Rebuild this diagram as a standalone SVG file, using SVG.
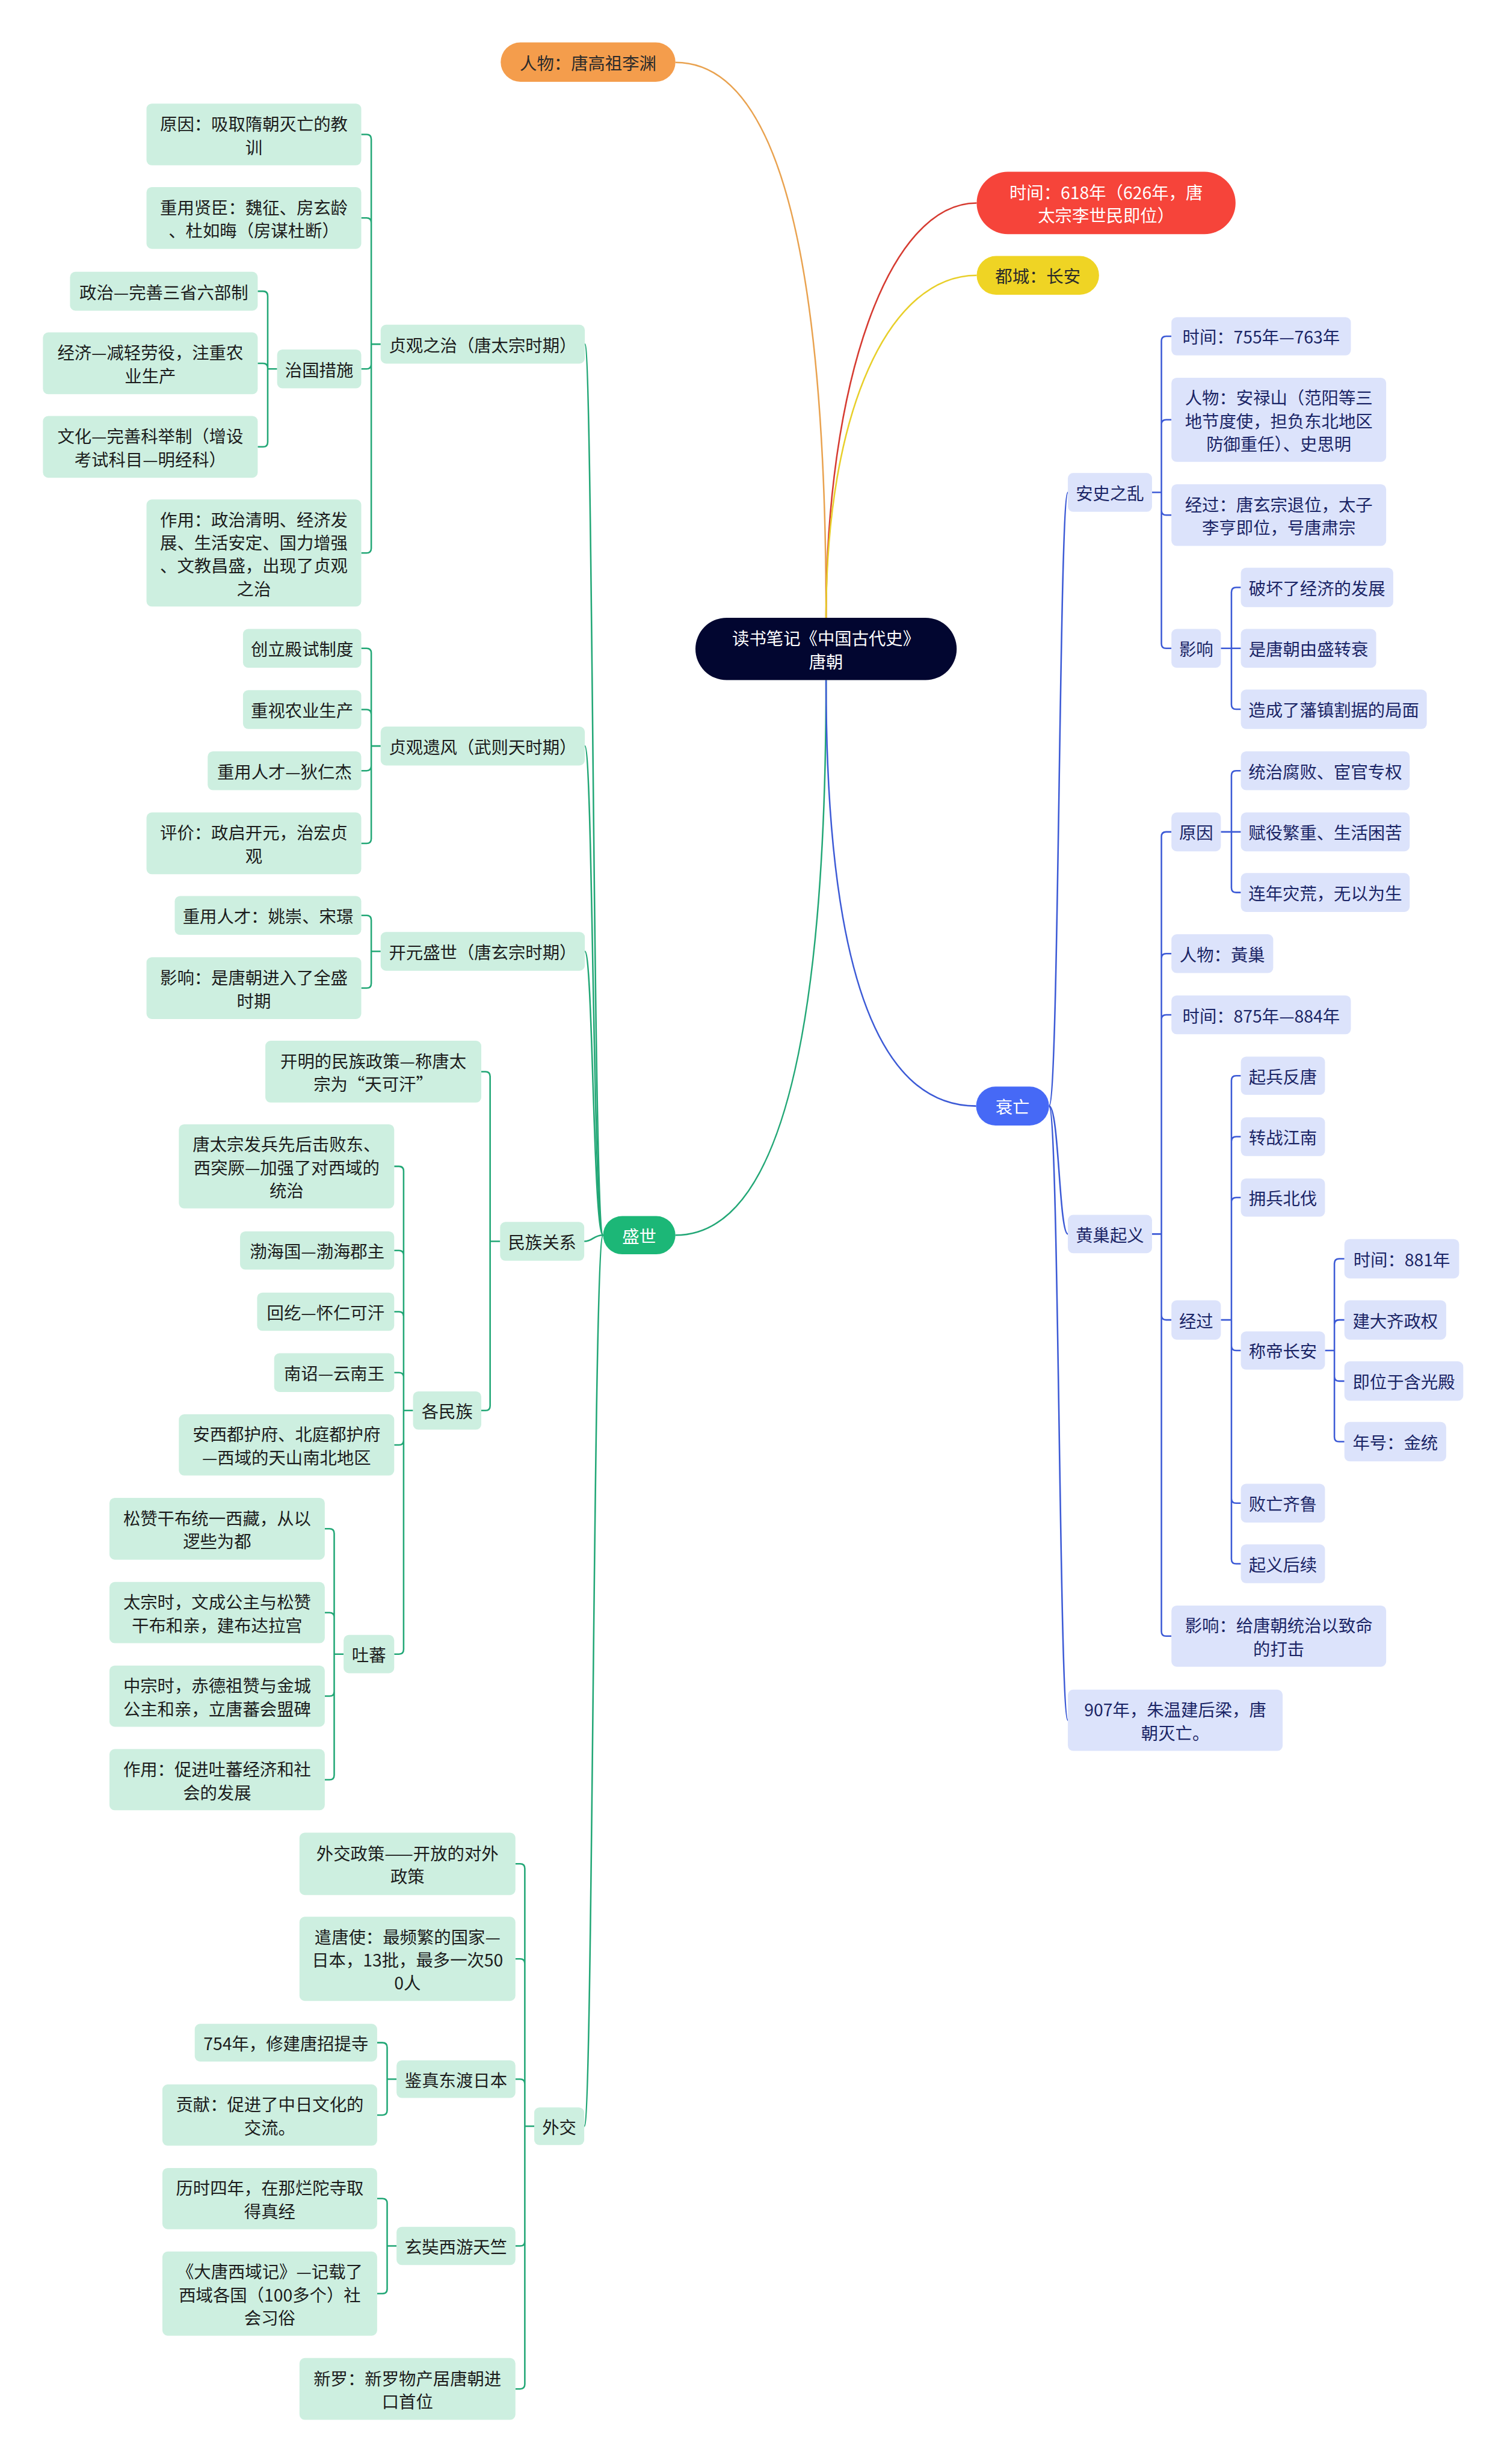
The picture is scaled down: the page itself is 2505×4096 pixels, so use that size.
<svg xmlns="http://www.w3.org/2000/svg" width="2505" height="4096" viewBox="0 0 2505 4096">
<style>
text{font-family:"Noto Sans CJK SC","Noto Sans",sans-serif;font-size:29px;text-anchor:middle;dominant-baseline:central}
.g rect{fill:#CDEFE0}
.g text{fill:#1c1c1c}
.b rect{fill:#DCE3FB}
.b text{fill:#1b2566}
.cg{fill:none;stroke:#22A776;stroke-width:2.6}
.cb{fill:none;stroke:#3C5AD6;stroke-width:2.6}
.w{fill:#fff}
</style>
<rect width="2505" height="4096" fill="#fff"/>
<g transform="scale(0.978)">
<g id="connectors">
<path d="M1404,1050Q1404,106 1148,106" fill="none" stroke="#E9A24F" stroke-width="2.6"/>
<path d="M1404,1050C1404,650 1510,345 1660,345" fill="none" stroke="#D63B31" stroke-width="2.6"/>
<path d="M1404,1050C1404,700 1510,468 1660,468" fill="none" stroke="#E8CF2A" stroke-width="2.6"/>
<path class="cg" d="M1404,1156Q1404,2099.5 1148,2099.5"/>
<path class="cb" d="M1404,1156Q1404,1880 1659,1880"/>
<path class="cg" d="M1025,2099.5C1008,2099.5 1008,585 994,585"/>
<path class="cg" d="M1025,2099.5C1008,2099.5 1008,1268 994,1268"/>
<path class="cg" d="M1025,2099.5C1008,2099.5 1008,1617 994,1617"/>
<path class="cg" d="M1025,2099.5C1008,2099.5 1008,2110 993,2110"/>
<path class="cg" d="M1025,2099.5C1008,2099.5 1008,3614 993,3614"/>
<path class="cb" d="M1783,1880C1800,1880 1800,837 1815,837"/>
<path class="cb" d="M1783,1880C1800,1880 1800,2097.5 1815,2097.5"/>
<path class="cb" d="M1783,1880C1800,1880 1800,2924 1815,2924"/>
<path class="cg" d="M614,228.5H623Q631,228.5 631,236.5V585M614,370.5H623Q631,370.5 631,378.5V585M614,627H623Q631,627 631,619V585M614,940H623Q631,940 631,932V585M631,585H647"/>
<path class="cg" d="M438,495H447Q455,495 455,503V627M438,617.5H447Q455,617.5 455,625.5V627M438,759.5H447Q455,759.5 455,751.5V627M455,627H471"/>
<path class="cg" d="M614,1102H623Q631,1102 631,1110V1268M614,1206H623Q631,1206 631,1214V1268M614,1310H623Q631,1310 631,1302V1268M614,1433.5H623Q631,1433.5 631,1425.5V1268M631,1268H647"/>
<path class="cg" d="M614,1556H623Q631,1556 631,1564V1617M614,1679.5H623Q631,1679.5 631,1671.5V1617M631,1617H647"/>
<path class="cg" d="M818,1821.5H825Q833,1821.5 833,1829.5V2110M818,2397.5H825Q833,2397.5 833,2389.5V2110M833,2110H850"/>
<path class="cg" d="M670,1982.5H678Q686,1982.5 686,1990.5V2397.5M670,2125.5H678Q686,2125.5 686,2133.5V2397.5M670,2229.5H678Q686,2229.5 686,2237.5V2397.5M670,2333H678Q686,2333 686,2341V2397.5M670,2456H678Q686,2456 686,2448V2397.5M670,2811.5H678Q686,2811.5 686,2803.5V2397.5M686,2397.5H702"/>
<path class="cg" d="M552,2598.5H560Q568,2598.5 568,2606.5V2811.5M552,2741H560Q568,2741 568,2749V2811.5M552,2883H560Q568,2883 568,2875V2811.5M552,3025H560Q568,3025 568,3017V2811.5M568,2811.5H584"/>
<path class="cg" d="M876,3168H884Q892,3168 892,3176V3614M876,3329.5H884Q892,3329.5 892,3337.5V3614M876,3534H884Q892,3534 892,3542V3614M876,3817.5H884Q892,3817.5 892,3809.5V3614M876,4060.5H884Q892,4060.5 892,4052.5V3614M892,3614H908"/>
<path class="cg" d="M641,3472H650Q658,3472 658,3480V3534M641,3595H650Q658,3595 658,3587V3534M658,3534H674"/>
<path class="cg" d="M641,3737H650Q658,3737 658,3745V3817.5M641,3898.5H650Q658,3898.5 658,3890.5V3817.5M658,3817.5H674"/>
<path class="cb" d="M1991,571.5H1982Q1974,571.5 1974,579.5V837M1991,713.5H1982Q1974,713.5 1974,721.5V837M1991,875.5H1982Q1974,875.5 1974,867.5V837M1991,1102H1982Q1974,1102 1974,1094V837M1958,837H1974"/>
<path class="cb" d="M2109,998.5H2101Q2093,998.5 2093,1006.5V1102M2109,1102H2093M2109,1205.5H2101Q2093,1205.5 2093,1197.5V1102M2075,1102H2093"/>
<path class="cb" d="M1991,1414H1982Q1974,1414 1974,1422V2097.5M1991,1621H1982Q1974,1621 1974,1629V2097.5M1991,1725H1982Q1974,1725 1974,1733V2097.5M1991,2243.5H1982Q1974,2243.5 1974,2235.5V2097.5M1991,2781H1982Q1974,2781 1974,2773V2097.5M1958,2097.5H1974"/>
<path class="cb" d="M2109,1310H2101Q2093,1310 2093,1318V1414M2109,1414H2093M2109,1517H2101Q2093,1517 2093,1509V1414M2075,1414H2093"/>
<path class="cb" d="M2109,1828.5H2101Q2093,1828.5 2093,1836.5V2243.5M2109,1932H2101Q2093,1932 2093,1940V2243.5M2109,2035.5H2101Q2093,2035.5 2093,2043.5V2243.5M2109,2295.5H2101Q2093,2295.5 2093,2287.5V2243.5M2109,2555H2101Q2093,2555 2093,2547V2243.5M2109,2658H2101Q2093,2658 2093,2650V2243.5M2075,2243.5H2093"/>
<path class="cb" d="M2285,2139.5H2276Q2268,2139.5 2268,2147.5V2295.5M2285,2243.5H2276Q2268,2243.5 2268,2251.5V2295.5M2285,2347.5H2276Q2268,2347.5 2268,2339.5V2295.5M2285,2450.5H2276Q2268,2450.5 2268,2442.5V2295.5M2252,2295.5H2268"/>
</g>

<g id="root"><rect x="1182" y="1050" width="444" height="106" rx="53" fill="#020630"/><text class="w" x="1404" y="1083.5">读书笔记《中国古代史》<tspan x="1404" dy="39">唐朝</tspan></text></g>
<g id="n-renwu"><rect x="851" y="72" width="297" height="67" rx="33.5" fill="#F49D4C"/><text x="999.5" y="105.5" fill="#2b2b2b">人物：唐高祖李渊</text></g>
<g id="n-time618"><rect x="1660" y="292" width="440" height="106" rx="53" fill="#F6443A"/><text class="w" x="1880" y="325.5">时间：618年（626年，唐<tspan x="1880" dy="39">太宗李世民即位）</tspan></text></g>
<g id="n-ducheng"><rect x="1660" y="435" width="208" height="66" rx="33" fill="#EFD424"/><text x="1764" y="468" fill="#2b2b2b">都城：长安</text></g>
<g id="n-shengshi"><rect x="1025" y="2067" width="123" height="65" rx="32.5" fill="#1CB777"/><text class="w" x="1086.5" y="2099.5">盛世</text></g>
<g id="n-shuaiwang"><rect x="1659" y="1847" width="124" height="66" rx="33" fill="#4669F6"/><text class="w" x="1721" y="1880">衰亡</text></g>

<g class="g">
<g id="n-zhenguan"><rect x="647" y="552" width="347" height="66" rx="9"/><text x="820.5" y="585">贞观之治（唐太宗时期）</text></g>
<g id="n-yuanyin1"><rect x="249" y="176" width="365" height="105" rx="9"/><text x="431.5" y="209">原因：吸取隋朝灭亡的教<tspan x="431.5" dy="39">训</tspan></text></g>
<g id="n-xianchen"><rect x="249" y="318" width="365" height="105" rx="9"/><text x="431.5" y="351">重用贤臣：魏征、房玄龄<tspan x="431.5" dy="39">、杜如晦（房谋杜断）</tspan></text></g>
<g id="n-zhiguo"><rect x="471" y="594" width="143" height="66" rx="9"/><text x="542.5" y="627">治国措施</text></g>
<g id="n-zhengzhi"><rect x="119" y="462" width="319" height="66" rx="9"/><text x="278.5" y="495">政治—完善三省六部制</text></g>
<g id="n-jingji"><rect x="73" y="565" width="365" height="105" rx="9"/><text x="255.5" y="598">经济—减轻劳役，注重农<tspan x="255.5" dy="39">业生产</tspan></text></g>
<g id="n-wenhua"><rect x="73" y="707" width="365" height="105" rx="9"/><text x="255.5" y="740">文化—完善科举制（增设<tspan x="255.5" dy="39">考试科目—明经科）</tspan></text></g>
<g id="n-zuoyong1"><rect x="249" y="849" width="365" height="182" rx="9"/><text x="431.5" y="881.5">作用：政治清明、经济发<tspan x="431.5" dy="39">展、生活安定、国力增强</tspan><tspan x="431.5" dy="39">、文教昌盛，出现了贞观</tspan><tspan x="431.5" dy="39">之治</tspan></text></g>
<g id="n-yifeng"><rect x="647" y="1235" width="347" height="66" rx="9"/><text x="820.5" y="1268">贞观遗风（武则天时期）</text></g>
<g id="n-dianshi"><rect x="413" y="1069" width="201" height="66" rx="9"/><text x="513.5" y="1102">创立殿试制度</text></g>
<g id="n-nongye"><rect x="413" y="1173" width="201" height="66" rx="9"/><text x="513.5" y="1206">重视农业生产</text></g>
<g id="n-direnjie"><rect x="353" y="1277" width="261" height="66" rx="9"/><text x="483.5" y="1310">重用人才—狄仁杰</text></g>
<g id="n-pingjia"><rect x="249" y="1381" width="365" height="105" rx="9"/><text x="431.5" y="1414">评价：政启开元，治宏贞<tspan x="431.5" dy="39">观</tspan></text></g>
<g id="n-kaiyuan"><rect x="647" y="1584" width="347" height="66" rx="9"/><text x="820.5" y="1617">开元盛世（唐玄宗时期）</text></g>
<g id="n-yaochong"><rect x="297" y="1523" width="317" height="66" rx="9"/><text x="455.5" y="1556">重用人才：姚崇、宋璟</text></g>
<g id="n-quansheng"><rect x="249" y="1627" width="365" height="105" rx="9"/><text x="431.5" y="1660">影响：是唐朝进入了全盛<tspan x="431.5" dy="39">时期</tspan></text></g>
<g id="n-minzu"><rect x="850" y="2077" width="143" height="66" rx="9"/><text x="921.5" y="2110">民族关系</text></g>
<g id="n-kaiming"><rect x="451" y="1769" width="367" height="105" rx="9"/><text x="634.5" y="1802">开明的民族政策—称唐太<tspan x="634.5" dy="39">宗为“天可汗”</tspan></text></g>
<g id="n-geminzu"><rect x="702" y="2365" width="116" height="65" rx="9"/><text x="760" y="2397.5">各民族</text></g>
<g id="n-tujue"><rect x="304" y="1911" width="366" height="143" rx="9"/><text x="487" y="1943.5">唐太宗发兵先后击败东、<tspan x="487" dy="39">西突厥—加强了对西域的</tspan><tspan x="487" dy="39">统治</tspan></text></g>
<g id="n-bohai"><rect x="408" y="2093" width="262" height="65" rx="9"/><text x="539" y="2125.5">渤海国—渤海郡主</text></g>
<g id="n-huihe"><rect x="437" y="2197" width="233" height="65" rx="9"/><text x="553.5" y="2229.5">回纥—怀仁可汗</text></g>
<g id="n-nanzhao"><rect x="466" y="2300" width="204" height="66" rx="9"/><text x="568" y="2333">南诏—云南王</text></g>
<g id="n-anxi"><rect x="304" y="2404" width="366" height="104" rx="9"/><text x="487" y="2436.5">安西都护府、北庭都护府<tspan x="487" dy="39">—西域的天山南北地区</tspan></text></g>
<g id="n-tubo"><rect x="584" y="2779" width="86" height="65" rx="9"/><text x="627" y="2811.5">吐蕃</text></g>
<g id="n-songzan"><rect x="186" y="2546" width="366" height="105" rx="9"/><text x="369" y="2579">松赞干布统一西藏，从以<tspan x="369" dy="39">逻些为都</tspan></text></g>
<g id="n-wencheng"><rect x="186" y="2689" width="366" height="104" rx="9"/><text x="369" y="2721.5">太宗时，文成公主与松赞<tspan x="369" dy="39">干布和亲，建布达拉宫</tspan></text></g>
<g id="n-jincheng"><rect x="186" y="2831" width="366" height="104" rx="9"/><text x="369" y="2863.5">中宗时，赤德祖赞与金城<tspan x="369" dy="39">公主和亲，立唐蕃会盟碑</tspan></text></g>
<g id="n-zuoyong2"><rect x="186" y="2973" width="366" height="104" rx="9"/><text x="369" y="3005.5">作用：促进吐蕃经济和社<tspan x="369" dy="39">会的发展</tspan></text></g>
<g id="n-waijiao"><rect x="908" y="3582" width="85" height="64" rx="9"/><text x="950.5" y="3614">外交</text></g>
<g id="n-zhengce"><rect x="509" y="3115" width="367" height="106" rx="9"/><text x="692.5" y="3148.5">外交政策——开放的对外<tspan x="692.5" dy="39">政策</tspan></text></g>
<g id="n-qiantang"><rect x="509" y="3258" width="367" height="143" rx="9"/><text x="692.5" y="3290.5">遣唐使：最频繁的国家—<tspan x="692.5" dy="39">日本，13批，最多一次50</tspan><tspan x="692.5" dy="39">0人</tspan></text></g>
<g id="n-jianzhen"><rect x="674" y="3502" width="202" height="64" rx="9"/><text x="775" y="3534">鉴真东渡日本</text></g>
<g id="n-754"><rect x="331" y="3440" width="310" height="64" rx="9"/><text x="486" y="3472">754年，修建唐招提寺</text></g>
<g id="n-gongxian"><rect x="276" y="3543" width="365" height="104" rx="9"/><text x="458.5" y="3575.5">贡献：促进了中日文化的<tspan x="458.5" dy="39">交流。</tspan></text></g>
<g id="n-xuanzang"><rect x="674" y="3785" width="202" height="65" rx="9"/><text x="775" y="3817.5">玄奘西游天竺</text></g>
<g id="n-lishi"><rect x="276" y="3685" width="365" height="104" rx="9"/><text x="458.5" y="3717.5">历时四年，在那烂陀寺取<tspan x="458.5" dy="39">得真经</tspan></text></g>
<g id="n-xiyuji"><rect x="276" y="3827" width="365" height="143" rx="9"/><text x="458.5" y="3859.5">《大唐西域记》—记载了<tspan x="458.5" dy="39">西域各国（100多个）社</tspan><tspan x="458.5" dy="39">会习俗</tspan></text></g>
<g id="n-xinluo"><rect x="509" y="4008" width="367" height="105" rx="9"/><text x="692.5" y="4041">新罗：新罗物产居唐朝进<tspan x="692.5" dy="39">口首位</tspan></text></g>
</g>

<g class="b">
<g id="n-anshi"><rect x="1815" y="804" width="143" height="66" rx="9"/><text x="1886.5" y="837">安史之乱</text></g>
<g id="n-time755"><rect x="1991" y="539" width="305" height="65" rx="9"/><text x="2143.5" y="571.5">时间：755年—763年</text></g>
<g id="n-anlushan"><rect x="1991" y="642" width="365" height="143" rx="9"/><text x="2173.5" y="674.5">人物：安禄山（范阳等三<tspan x="2173.5" dy="39">地节度使，担负东北地区</tspan><tspan x="2173.5" dy="39">防御重任）、史思明</tspan></text></g>
<g id="n-jingguo1"><rect x="1991" y="823" width="365" height="105" rx="9"/><text x="2173.5" y="856">经过：唐玄宗退位，太子<tspan x="2173.5" dy="39">李亨即位，号唐肃宗</tspan></text></g>
<g id="n-yingxiang1"><rect x="1991" y="1069" width="84" height="66" rx="9"/><text x="2033" y="1102">影响</text></g>
<g id="n-pohuai"><rect x="2109" y="965" width="259" height="67" rx="9"/><text x="2238.5" y="998.5">破坏了经济的发展</text></g>
<g id="n-zhuanshuai"><rect x="2109" y="1069" width="230" height="66" rx="9"/><text x="2224" y="1102">是唐朝由盛转衰</text></g>
<g id="n-fanzhen"><rect x="2109" y="1172" width="316" height="67" rx="9"/><text x="2267" y="1205.5">造成了藩镇割据的局面</text></g>
<g id="n-huangchao"><rect x="1815" y="2065" width="143" height="65" rx="9"/><text x="1886.5" y="2097.5">黄巢起义</text></g>
<g id="n-yuanyin2"><rect x="1991" y="1381" width="84" height="66" rx="9"/><text x="2033" y="1414">原因</text></g>
<g id="n-fubai"><rect x="2109" y="1277" width="287" height="66" rx="9"/><text x="2252.5" y="1310">统治腐败、宦官专权</text></g>
<g id="n-fuyi"><rect x="2109" y="1381" width="287" height="66" rx="9"/><text x="2252.5" y="1414">赋役繁重、生活困苦</text></g>
<g id="n-zaihuang"><rect x="2109" y="1484" width="287" height="66" rx="9"/><text x="2252.5" y="1517">连年灾荒，无以为生</text></g>
<g id="n-renwu2"><rect x="1991" y="1588" width="173" height="66" rx="9"/><text x="2077.5" y="1621">人物：黃巢</text></g>
<g id="n-time875"><rect x="1991" y="1692" width="305" height="66" rx="9"/><text x="2143.5" y="1725">时间：875年—884年</text></g>
<g id="n-jingguo2"><rect x="1991" y="2210" width="84" height="67" rx="9"/><text x="2033" y="2243.5">经过</text></g>
<g id="n-qibing"><rect x="2109" y="1796" width="143" height="65" rx="9"/><text x="2180.5" y="1828.5">起兵反唐</text></g>
<g id="n-zhuanzhan"><rect x="2109" y="1899" width="143" height="66" rx="9"/><text x="2180.5" y="1932">转战江南</text></g>
<g id="n-yongbing"><rect x="2109" y="2003" width="143" height="65" rx="9"/><text x="2180.5" y="2035.5">拥兵北伐</text></g>
<g id="n-chengdi"><rect x="2109" y="2263" width="143" height="65" rx="9"/><text x="2180.5" y="2295.5">称帝长安</text></g>
<g id="n-time881"><rect x="2285" y="2106" width="195" height="67" rx="9"/><text x="2382.5" y="2139.5">时间：881年</text></g>
<g id="n-daqi"><rect x="2285" y="2210" width="173" height="67" rx="9"/><text x="2371.5" y="2243.5">建大齐政权</text></g>
<g id="n-hanguang"><rect x="2285" y="2314" width="202" height="67" rx="9"/><text x="2386" y="2347.5">即位于含光殿</text></g>
<g id="n-nianhao"><rect x="2285" y="2417" width="173" height="67" rx="9"/><text x="2371.5" y="2450.5">年号：金统</text></g>
<g id="n-baiwang"><rect x="2109" y="2522" width="143" height="66" rx="9"/><text x="2180.5" y="2555">败亡齐鲁</text></g>
<g id="n-houxu"><rect x="2109" y="2625" width="143" height="66" rx="9"/><text x="2180.5" y="2658">起义后续</text></g>
<g id="n-yingxiang2"><rect x="1991" y="2729" width="365" height="104" rx="9"/><text x="2173.5" y="2761.5">影响：给唐朝统治以致命<tspan x="2173.5" dy="39">的打击</tspan></text></g>
<g id="n-907"><rect x="1815" y="2872" width="365" height="104" rx="9"/><text x="1997.5" y="2904.5">907年，朱温建后梁，唐<tspan x="1997.5" dy="39">朝灭亡。</tspan></text></g>
</g>
</g>
</svg>
